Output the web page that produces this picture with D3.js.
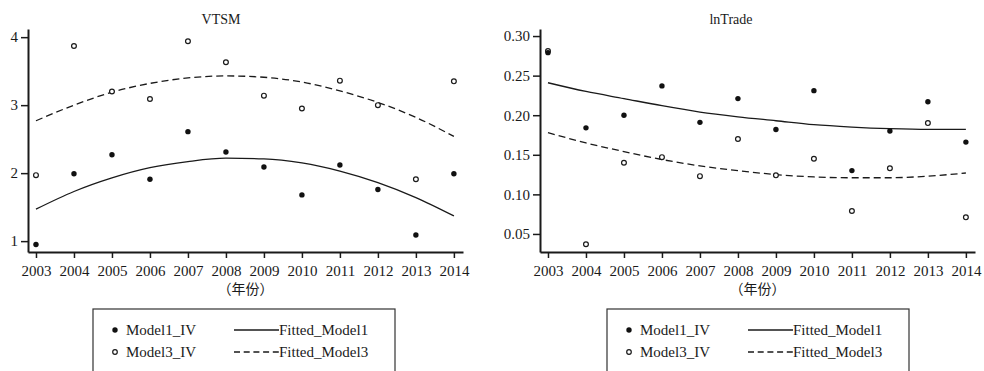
<!DOCTYPE html>
<html>
<head>
<meta charset="utf-8">
<script src="https://cdn.jsdelivr.net/npm/d3@7"></script>
<style>
  body { margin: 0; background: #fff; }
</style>
</head>
<body>
<svg id="chart"></svg>
<script>
// data
var years = [2003, 2004, 2005, 2006, 2007, 2008, 2009, 2010, 2011, 2012, 2013, 2014];

var vtsmModel1 = [0.95, 1.99, 2.27, 1.91, 2.61, 2.31, 2.09, 1.68, 2.12, 1.76, 1.09, 1.99];
var vtsmModel3 = [1.97, 3.87, 3.20, 3.09, 3.94, 3.63, 3.14, 2.95, 3.36, 3.00, 1.91, 3.35];
var vtsmFit1 = [1.47, 1.73, 1.93, 2.08, 2.17, 2.22, 2.21, 2.15, 2.03, 1.86, 1.64, 1.37];
var vtsmFit3 = [2.77, 3.00, 3.19, 3.32, 3.40, 3.43, 3.41, 3.34, 3.21, 3.04, 2.82, 2.54];

var tradeModel1 = [0.279, 0.184, 0.200, 0.237, 0.191, 0.221, 0.182, 0.231, 0.130, 0.180, 0.217, 0.166];
var tradeModel3 = [0.281, 0.037, 0.140, 0.147, 0.123, 0.170, 0.124, 0.145, 0.079, 0.133, 0.190, 0.071];
var tradeFit1 = [0.241, 0.230, 0.221, 0.212, 0.204, 0.198, 0.193, 0.188, 0.185, 0.183, 0.182, 0.182];
var tradeFit3 = [0.178, 0.165, 0.154, 0.144, 0.136, 0.130, 0.125, 0.122, 0.121, 0.121, 0.123, 0.127];

var vtsmTicks = [1, 2, 3, 4];
var tradeTicks = [0.05, 0.10, 0.15, 0.20, 0.25, 0.30];

var legendLabels = ['Model1_IV', 'Model3_IV', 'Fitted_Model1', 'Fitted_Model3'];

var width = 984;
var height = 371;
var serif = '"Liberation Serif", "Times New Roman", serif';
var ink = '#1a1a1a';

var svg = d3.select('#chart')
  .attr('width', width)
  .attr('height', height);

// one panel = a title, two scatter series and two fitted curves
function drawPanel(opt) {
  var x = d3.scaleLinear()
    .domain([2002.79, 2014.24])
    .range([opt.left, opt.right]);

  var y = d3.scaleLinear()
    .domain(opt.yDomain)
    .range([252, 29]);

  svg.append('text')
    .attr('x', opt.titleX)
    .attr('y', 24)
    .attr('text-anchor', 'middle')
    .attr('font-family', serif)
    .attr('font-size', 14)
    .attr('fill', ink)
    .text(opt.title);

  // y axis
  var yAxis = d3.axisLeft(y)
    .tickValues(opt.yTicks)
    .tickFormat(opt.yFormat)
    .tickSize(7)
    .tickSizeOuter(0);

  var gy = svg.append('g')
    .attr('transform', 'translate(' + opt.left + ',0)')
    .call(yAxis)
    .attr('font-family', serif)
    .attr('font-size', 15);
  gy.select('.domain').attr('stroke', ink).attr('stroke-width', 2);
  gy.selectAll('.tick line').attr('stroke', ink).attr('stroke-width', 1.5);
  gy.selectAll('.tick text').attr('x', -10).attr('fill', ink);

  // x axis
  var xAxis = d3.axisBottom(x)
    .tickValues(years)
    .tickFormat(d3.format('d'))
    .tickSize(6)
    .tickSizeOuter(0);

  var gx = svg.append('g')
    .attr('transform', 'translate(0,252)')
    .call(xAxis)
    .attr('font-family', serif)
    .attr('font-size', 15);
  gx.select('.domain').attr('stroke', ink).attr('stroke-width', 2);
  gx.selectAll('.tick line').attr('stroke', ink).attr('stroke-width', 1.5);
  gx.selectAll('.tick text').attr('y', 24).attr('dy', 0).attr('fill', ink);

  svg.append('text')
    .attr('x', (opt.left + opt.right) / 2)
    .attr('y', 294)
    .attr('text-anchor', 'middle')
    .attr('font-family', '"Noto Sans CJK SC", serif')
    .attr('font-size', 14)
    .attr('fill', ink)
    .text('（年份）');

  // fitted curves
  var line = d3.line()
    .x(function(d, i) { return x(years[i]); })
    .y(function(d) { return y(d); })
    .curve(d3.curveMonotoneX);

  svg.append('path')
    .attr('d', line(opt.fit1))
    .attr('fill', 'none')
    .attr('stroke', ink)
    .attr('stroke-width', 1.3);

  svg.append('path')
    .attr('d', line(opt.fit3))
    .attr('fill', 'none')
    .attr('stroke', ink)
    .attr('stroke-width', 1.3)
    .attr('stroke-dasharray', '7,4');

  // scatter
  svg.append('g').selectAll('circle')
    .data(opt.model3)
    .enter()
    .append('circle')
      .attr('cx', function(d, i) { return x(years[i]); })
      .attr('cy', function(d) { return y(d); })
      .attr('r', 2.4)
      .attr('fill', '#fff')
      .attr('stroke', ink)
      .attr('stroke-width', 1.2);

  svg.append('g').selectAll('circle')
    .data(opt.model1)
    .enter()
    .append('circle')
      .attr('cx', function(d, i) { return x(years[i]); })
      .attr('cy', function(d) { return y(d); })
      .attr('r', 2.7)
      .attr('fill', '#111');

  // legend box (runs off the bottom edge)
  var lg = svg.append('g')
    .attr('transform', 'translate(' + opt.legendX + ',309)');

  lg.append('rect')
    .attr('x', 0)
    .attr('y', 0)
    .attr('width', 302)
    .attr('height', 80)
    .attr('fill', 'none')
    .attr('stroke', '#333')
    .attr('stroke-width', 1.2);

  lg.append('circle').attr('cx', 22).attr('cy', 21).attr('r', 2.7).attr('fill', '#111');
  lg.append('circle').attr('cx', 22).attr('cy', 43).attr('r', 2.3)
    .attr('fill', '#fff').attr('stroke', ink).attr('stroke-width', 1.2);

  lg.append('line').attr('x1', 141).attr('x2', 186).attr('y1', 21).attr('y2', 21)
    .attr('stroke', ink).attr('stroke-width', 1.3);
  lg.append('line').attr('x1', 141).attr('x2', 186).attr('y1', 43).attr('y2', 43)
    .attr('stroke', ink).attr('stroke-width', 1.3).attr('stroke-dasharray', '6,3.7');

  var pos = [[33, 21], [33, 43], [186, 21], [186, 43]];
  legendLabels.forEach(function(t, i) {
    lg.append('text')
      .attr('x', pos[i][0])
      .attr('y', pos[i][1] + 5)
      .attr('font-family', serif)
      .attr('font-size', 15)
      .attr('fill', ink)
      .text(t);
  });
}

drawPanel({
  title: 'VTSM', titleX: 221,
  left: 28, right: 463,
  yDomain: [0.84, 4.12], yTicks: vtsmTicks, yFormat: d3.format('d'),
  model1: vtsmModel1, model3: vtsmModel3, fit1: vtsmFit1, fit3: vtsmFit3,
  legendX: 93
});

drawPanel({
  title: 'lnTrade', titleX: 731,
  left: 540, right: 975,
  yDomain: [0.0272, 0.3089], yTicks: tradeTicks, yFormat: d3.format('.2f'),
  model1: tradeModel1, model3: tradeModel3, fit1: tradeFit1, fit3: tradeFit3,
  legendX: 607
});
</script>
</body>
</html>
